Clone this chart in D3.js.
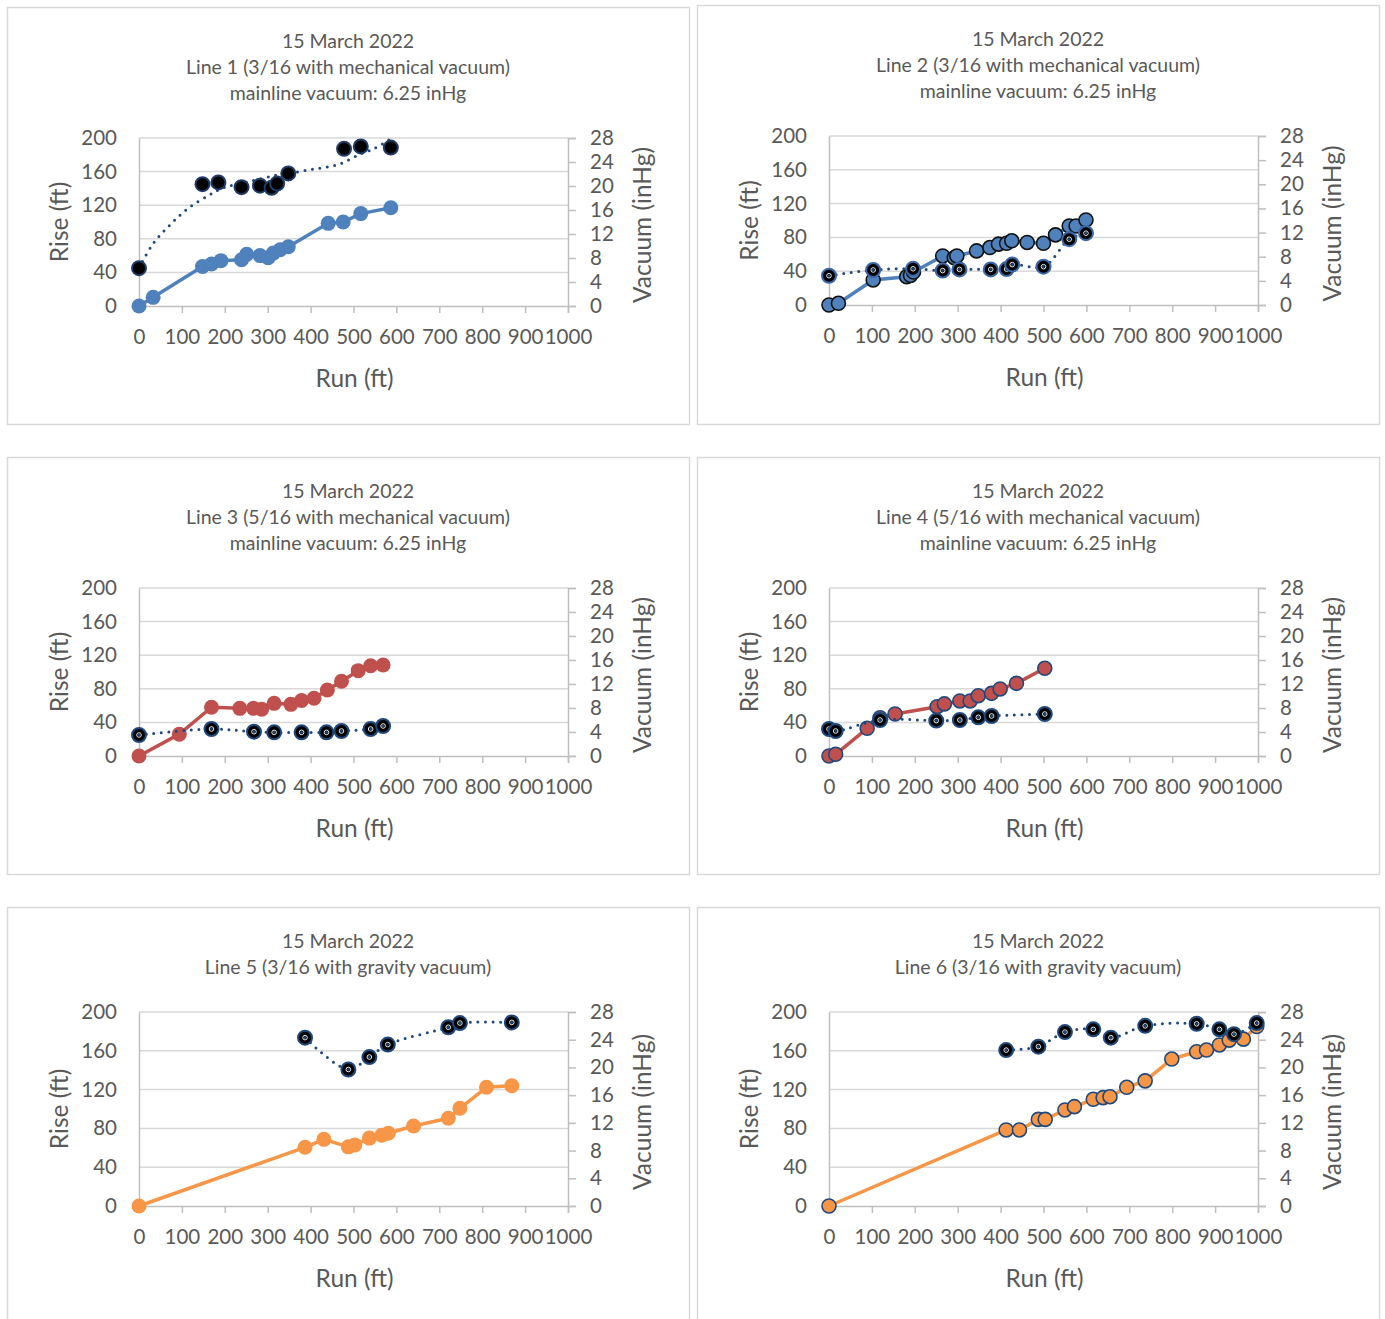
<!DOCTYPE html>
<html>
<head>
<meta charset="utf-8">
<script src="https://cdn.jsdelivr.net/npm/d3@7"></script>
<style>
  body { margin: 0; background: #fff; }
  svg text { font-family: Lato, "Open Sans", sans-serif; fill: #595959; }
</style>
</head>
<body>
<svg id="chart" width="1385" height="1319"></svg>
<script>
// ---- shared axis ticks ----
const runTicks  = [0, 100, 200, 300, 400, 500, 600, 700, 800, 900, 1000];
const riseTicks = [0, 40, 80, 120, 160, 200];
const vacTicks  = [0, 4, 8, 12, 16, 20, 24, 28];

// ---- Line 1 (3/16, mechanical vacuum) ----
const line1Run  = [0, 33, 148, 169, 191, 239, 251, 282, 301, 313, 329, 348, 441, 476, 517, 587];
const line1Rise = [0, 10.3, 47, 50, 54, 55, 61.5, 60, 57.5, 63, 67, 70.6, 98.4, 100, 110, 117];
const line1VacRun = [0, 148, 185, 239, 282, 309, 322, 348, 478, 517, 587];
const line1Vac    = [6.3, 20.3, 20.6, 19.8, 20.05, 19.7, 20.4, 22.1, 26.2, 26.6, 26.4];
const line1VacCurveRun = [0, 33, 72, 115, 164, 197, 255, 313, 348, 406, 465, 515, 550, 583];
const line1VacCurve    = [6.3, 10.4, 13.5, 16.3, 18.5, 19.7, 20.7, 21.7, 22.1, 22.8, 23.6, 25.3, 26.3, 27.7];

// ---- Line 2 (3/16, mechanical vacuum) ----
const line2Run  = [0, 22, 103, 181, 190, 197, 265, 292, 298, 344, 375, 395, 414, 426, 462, 500, 528, 560, 576, 599];
const line2Rise = [0, 2, 29.6, 33.5, 35, 39, 58, 56, 58, 64, 68, 72, 73, 76, 74, 73, 83, 93.5, 93.5, 100.6];
const line2VacRun = [0, 103, 196, 265, 304, 377, 414, 427, 500, 560, 599];
const line2Vac    = [4.85, 5.8, 6.0, 5.7, 5.9, 5.9, 5.95, 6.7, 6.35, 10.9, 11.9];

// ---- Line 3 (5/16, mechanical vacuum) ----
const line3Run  = [0, 94, 169, 235, 267, 286, 315, 354, 379, 408, 439, 472, 511, 540, 569];
const line3Rise = [0, 26, 58, 56.7, 56.7, 55.6, 62.7, 61.5, 66, 68.7, 78.6, 89, 101.6, 107.5, 108.3];
const line3VacRun = [0, 169, 268, 315, 379, 437, 472, 540, 569];
const line3Vac    = [3.5, 4.5, 4.05, 3.94, 3.94, 3.94, 4.17, 4.5, 5.0];

// ---- Line 4 (5/16, mechanical vacuum) ----
const line4Run  = [0, 15.5, 89, 119, 154, 252, 269, 305, 329, 348, 379, 399, 437, 503];
const line4Rise = [0, 2, 33, 45.6, 50, 58.7, 62, 65.5, 65.5, 71.8, 74.6, 79.8, 86.5, 104.4];
const line4VacRun = [0, 15.5, 119, 250, 305, 348, 379, 503];
const line4Vac    = [4.5, 4.17, 6.0, 5.9, 6.0, 6.45, 6.67, 7.0];

// ---- Line 5 (3/16, gravity vacuum) ----
const line5Run  = [0, 387, 431, 488, 503, 537, 566, 581, 640, 721, 748, 810, 869];
const line5Rise = [0, 60.5, 68.7, 61, 63, 70, 73, 75, 82.5, 90.4, 100.7, 122.4, 124];
const line5VacRun = [387, 488, 537, 580, 721, 748, 869];
const line5Vac    = [24.3, 19.7, 21.5, 23.3, 25.8, 26.4, 26.5];

// ---- Line 6 (3/16, gravity vacuum) ----
const line6Run  = [0, 413, 444, 488, 504, 550, 572, 616, 639, 655, 694, 737, 799, 857, 880, 910, 933, 966, 997];
const line6Rise = [0, 78.4, 78.4, 89.3, 89.3, 99, 102.4, 110, 111.7, 112.7, 122.4, 129, 151.5, 159, 160.8, 166, 171, 172, 185];
const line6VacRun = [413, 488, 550, 616, 657, 737, 857, 910, 944, 997];
const line6Vac    = [22.5, 23.0, 25.1, 25.5, 24.3, 26.0, 26.3, 25.5, 24.8, 26.4];

const dateLine = "15 March 2022";
const vacuumNote = "mainline vacuum: 6.25 inHg";

const panels = [
  { frame: [7, 7, 682, 417], plot: [139, 568, 138, 306], titleY: 40,
    title: [dateLine, "Line 1 (3/16 with mechanical vacuum)", vacuumNote],
    run: line1Run, rise: line1Rise, vacRun: line1VacRun, vac: line1Vac,
    curveRun: line1VacCurveRun, curve: line1VacCurve,
    color: "#4F81BD", riseStroke: null, vacRing: "#1F3B66", center: false },
  { frame: [697, 5, 682, 419], plot: [829, 1258, 136, 305], titleY: 38,
    title: [dateLine, "Line 2 (3/16 with mechanical vacuum)", vacuumNote],
    run: line2Run, rise: line2Rise, vacRun: line2VacRun, vac: line2Vac,
    color: "#4F81BD", riseStroke: "#111", vacRing: "#3A68A8", center: true },
  { frame: [7, 457, 682, 417], plot: [139, 568, 588, 756], titleY: 490,
    title: [dateLine, "Line 3 (5/16 with mechanical vacuum)", vacuumNote],
    run: line3Run, rise: line3Rise, vacRun: line3VacRun, vac: line3Vac,
    color: "#C0504D", riseStroke: null, vacRing: "#1F497D", center: true },
  { frame: [697, 457, 682, 417], plot: [829, 1258, 588, 756], titleY: 490,
    title: [dateLine, "Line 4 (5/16 with mechanical vacuum)", vacuumNote],
    run: line4Run, rise: line4Rise, vacRun: line4VacRun, vac: line4Vac,
    color: "#C0504D", riseStroke: "#1F497D", vacRing: "#1F497D", center: true },
  { frame: [7, 907, 682, 440], plot: [139, 568, 1012, 1206], titleY: 940,
    title: [dateLine, "Line 5 (3/16 with gravity vacuum)"],
    run: line5Run, rise: line5Rise, vacRun: line5VacRun, vac: line5Vac,
    color: "#F79646", riseStroke: null, vacRing: "#1F497D", center: true },
  { frame: [697, 907, 682, 440], plot: [829, 1258, 1012, 1206], titleY: 940,
    title: [dateLine, "Line 6 (3/16 with gravity vacuum)"],
    run: line6Run, rise: line6Rise, vacRun: line6VacRun, vac: line6Vac,
    color: "#F79646", riseStroke: "#1F497D", vacRing: "#1F497D", center: true }
];

const svg = d3.select("#chart");
const gridColor = "#D9D9D9";
const axisColor = "#BFBFBF";
const navy = "#1F497D";
const fontStack = "Lato, \"Open Sans\", sans-serif";
const tickFont = 20.5;
const titleFont = 19.5;
const axisTitleFont = 24.5;

panels.forEach(p => {
  const g = svg.append("g");
  const [fx, fy, fw, fh] = p.frame;
  const [L, R, T, B] = p.plot;

  g.append("rect").attr("x", fx + 0.5).attr("y", fy + 0.5)
    .attr("width", fw).attr("height", fh)
    .attr("fill", "#fff").attr("stroke", "#D9D9D9").attr("stroke-width", 1.5);

  // title block
  const cx = fx + fw / 2;
  p.title.forEach((t, i) => {
    g.append("text").attr("x", cx).attr("y", p.titleY + i * 26)
      .attr("text-anchor", "middle").attr("dominant-baseline", "central")
      .attr("font-size", titleFont).text(t);
  });

  const x = d3.scaleLinear().domain([0, 1000]).range([L, R]);
  const y = d3.scaleLinear().domain([0, 200]).range([B, T]);
  const yv = d3.scaleLinear().domain([0, 28]).range([B, T]);

  // horizontal gridlines
  g.append("g").selectAll("line").data(riseTicks.filter(d => d > 0)).join("line")
    .attr("x1", L).attr("x2", R).attr("y1", d => y(d)).attr("y2", d => y(d))
    .attr("stroke", gridColor).attr("stroke-width", 1.5);

  // bottom axis
  const xAxis = d3.axisBottom(x).tickValues(runTicks).tickSize(7).tickFormat(d3.format("d"));
  const gx = g.append("g").attr("transform", `translate(0,${B})`).call(xAxis);
  gx.select(".domain").attr("stroke", axisColor).attr("stroke-width", 1.5);
  gx.selectAll(".tick line").attr("stroke", axisColor).attr("stroke-width", 1.5);
  gx.selectAll(".tick text").attr("y", 31).attr("dy", "0.36em")
    .attr("font-size", tickFont).attr("fill", "#595959").attr("font-family", fontStack);

  // left axis
  const yAxis = d3.axisLeft(y).tickValues(riseTicks).tickSize(0).tickPadding(22);
  const gy = g.append("g").attr("transform", `translate(${L},0)`).call(yAxis);
  gy.select(".domain").attr("stroke", axisColor).attr("stroke-width", 1.5);
  gy.selectAll(".tick text").attr("font-size", tickFont).attr("fill", "#595959")
    .attr("font-family", fontStack);

  // right axis
  const vAxis = d3.axisRight(yv).tickValues(vacTicks).tickSize(8).tickPadding(14);
  const gv = g.append("g").attr("transform", `translate(${R},0)`).call(vAxis);
  gv.select(".domain").attr("stroke", axisColor).attr("stroke-width", 1.5);
  gv.selectAll(".tick line").attr("stroke", axisColor).attr("stroke-width", 1.5);
  gv.selectAll(".tick text").attr("font-size", tickFont).attr("fill", "#595959")
    .attr("font-family", fontStack);

  // axis titles
  g.append("text").attr("x", (L + R) / 2 + 1).attr("y", B + 71)
    .attr("text-anchor", "middle").attr("dominant-baseline", "central")
    .attr("font-size", axisTitleFont).text("Run (ft)");
  g.append("text").attr("transform", `translate(${L - 81},${(T + B) / 2}) rotate(-90)`)
    .attr("text-anchor", "middle").attr("dominant-baseline", "central")
    .attr("font-size", axisTitleFont).text("Rise (ft)");
  g.append("text").attr("transform", `translate(${R + 73},${(T + B) / 2 + 3}) rotate(-90)`)
    .attr("text-anchor", "middle").attr("dominant-baseline", "central")
    .attr("font-size", axisTitleFont).text("Vacuum (inHg)");

  // rise profile
  const risePts = p.run.map((r, i) => [r, p.rise[i]]);
  g.append("path").datum(risePts)
    .attr("d", d3.line().x(d => x(d[0])).y(d => y(d[1])))
    .attr("fill", "none").attr("stroke", p.color).attr("stroke-width", 3.5)
    .attr("stroke-linejoin", "round");
  g.append("g").selectAll("circle").data(risePts).join("circle")
    .attr("cx", d => x(d[0])).attr("cy", d => y(d[1])).attr("r", p.riseStroke ? 7 : 7.5)
    .attr("fill", p.color)
    .attr("stroke", p.riseStroke || "none").attr("stroke-width", p.riseStroke ? 1.6 : 0);

  // vacuum readings (smoothed dotted line + markers)
  const vacPts = p.vacRun.map((r, i) => [r, p.vac[i]]);
  const curvePts = p.curveRun ? p.curveRun.map((r, i) => [r, p.curve[i]]) : vacPts;
  g.append("path").datum(curvePts)
    .attr("d", d3.line().x(d => x(d[0])).y(d => yv(d[1])).curve(d3.curveCatmullRom.alpha(0.5)))
    .attr("fill", "none").attr("stroke", navy).attr("stroke-width", 3)
    .attr("stroke-linecap", "round").attr("stroke-dasharray", "0 7.5");
  const vm = g.append("g").selectAll("g").data(vacPts).join("g")
    .attr("transform", d => `translate(${x(d[0])},${yv(d[1])})`);
  vm.append("circle").attr("r", 7).attr("fill", "#000")
    .attr("stroke", p.vacRing).attr("stroke-width", 2);
  if (p.center) {
    vm.append("circle").attr("r", 2.3).attr("fill", "none").attr("stroke", "#fff").attr("stroke-width", 0.9);
    vm.append("circle").attr("r", 1.3).attr("fill", navy);
  }
});
</script>
</body>
</html>
